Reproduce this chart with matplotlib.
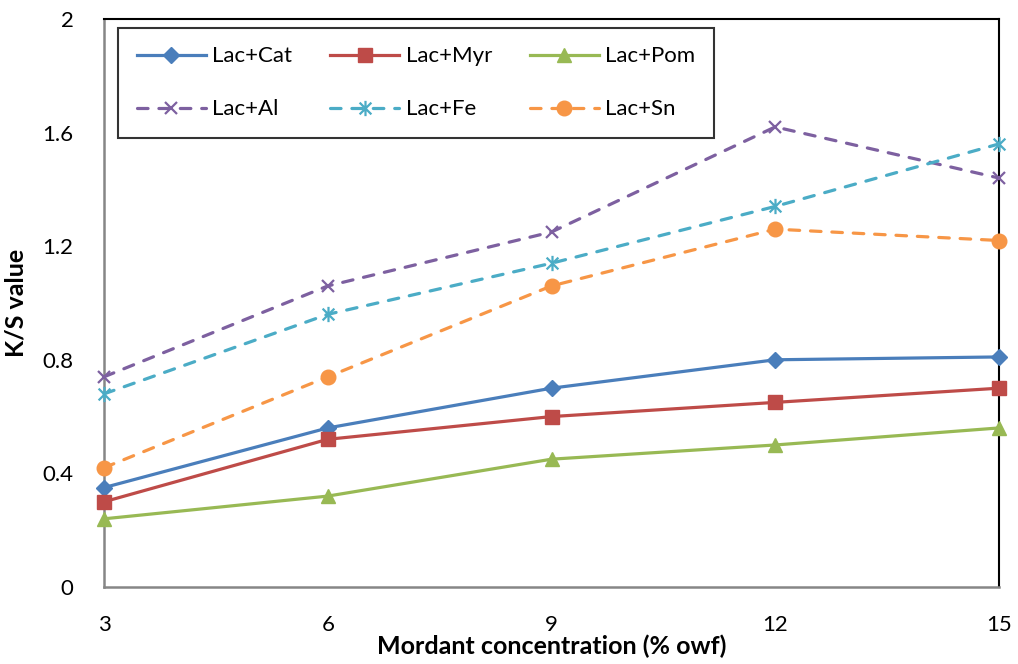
import matplotlib
matplotlib.use("Agg")
import matplotlib.pyplot as plt
from matplotlib.path import Path

plt.rcParams['font.family'] = ['Lato', 'DejaVu Sans']

concentration = [3, 6, 9, 12, 15]
tick_labels = ['3', '6', '9', '12', '15']

series_names = ['Lac+Cat', 'Lac+Myr', 'Lac+Pom', 'Lac+Al', 'Lac+Fe', 'Lac+Sn']
lac_cat = [0.35, 0.56, 0.70, 0.80, 0.81]
lac_myr = [0.30, 0.52, 0.60, 0.65, 0.70]
lac_pom = [0.24, 0.32, 0.45, 0.50, 0.56]
lac_al = [0.74, 1.06, 1.25, 1.62, 1.44]
lac_fe = [0.68, 0.96, 1.14, 1.34, 1.56]
lac_sn = [0.42, 0.74, 1.06, 1.26, 1.22]

# star marker: an "x" crossed by a vertical stroke
star = Path([(-1, -1), (1, 1), (-1, 1), (1, -1), (0, -1.3), (0, 1.3)],
            [Path.MOVETO, Path.LINETO, Path.MOVETO, Path.LINETO, Path.MOVETO, Path.LINETO])

styles = [
    dict(color='#4A7EBB', marker='D', ms=8.5, ls='-'),
    dict(color='#BE4B48', marker='s', ms=9.5, ls='-'),
    dict(color='#98B954', marker='^', ms=10.5, ls='-'),
    dict(color='#7D60A0', marker='x', ms=9, ls='--', mew=1.6),
    dict(color='#4BACC6', marker=star, ms=11, ls='--', mew=1.6),
    dict(color='#F79646', marker='o', ms=10.5, ls='--'),
]
values = [lac_cat, lac_myr, lac_pom, lac_al, lac_fe, lac_sn]

fig = plt.figure(figsize=(10.18, 6.64), dpi=100)
ax = fig.add_axes([0.1022, 0.116, 0.8791, 0.8554])

lines = []
for name, vals, st in zip(series_names, values, styles):
    line, = ax.plot(concentration, vals, label=name, lw=2.3, color=st['color'],
                    marker=st['marker'], markersize=st['ms'],
                    markeredgewidth=st.get('mew', 1.0),
                    markerfacecolor=st['color'], markeredgecolor=st['color'],
                    linestyle=st['ls'], clip_on=False, zorder=3)
    if st['ls'] == '--':
        line.set_dashes((3.3, 3.4))
        line.set_dash_capstyle('round')
    lines.append(line)

ax.set_xlim(3, 15)
ax.set_ylim(0, 2)
ax.set_xticks(concentration)
ax.set_xticklabels(tick_labels)
ax.set_yticks([0, 0.4, 0.8, 1.2, 1.6, 2.0])
ax.set_yticklabels(['0', '0.4', '0.8', '1.2', '1.6', '2'])
ax.tick_params(axis='both', length=0, labelsize=16, colors='black')
ax.tick_params(axis='x', pad=20)
ax.tick_params(axis='y', pad=22)

for side in ('left', 'bottom'):
    ax.spines[side].set_color('#868686')
    ax.spines[side].set_linewidth(1.8)
for side in ('top', 'right'):
    ax.spines[side].set_color('black')
    ax.spines[side].set_linewidth(1.5)

ax.set_xlabel('Mordant concentration (% owf)', fontsize=18, fontweight='bold', labelpad=0)
ax.set_ylabel('K/S value', fontsize=18, fontweight='bold', labelpad=11)

# legend fills column by column, so order entries to read across rows
order = [0, 3, 1, 4, 2, 5]
leg = ax.legend([lines[i] for i in order], [series_names[i] for i in order],
                loc='upper left', bbox_to_anchor=(0.0155, 0.985), borderaxespad=0,
                ncol=3, fontsize=16, handlelength=3.1, handletextpad=0.3,
                columnspacing=1.7, labelspacing=1.48, borderpad=0.85,
                fancybox=False, frameon=True, edgecolor='black')
leg.get_frame().set_linewidth(1.5)

fig.savefig('out.png', dpi=100)
